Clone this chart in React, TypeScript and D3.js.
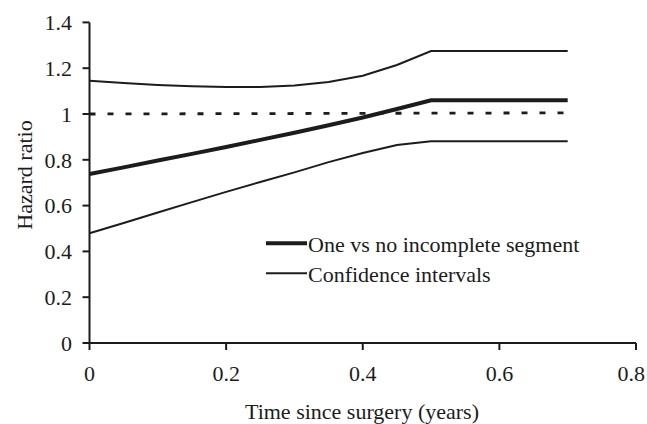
import React from "react";
import * as d3 from "d3";

const times = [0, 0.05, 0.1, 0.15, 0.2, 0.25, 0.3, 0.35, 0.4, 0.45, 0.5, 0.7];
const hazard = [0.738, 0.767, 0.797, 0.826, 0.856, 0.887, 0.918, 0.951, 0.985, 1.022, 1.06, 1.06];
const upperCI = [1.145, 1.135, 1.127, 1.121, 1.118, 1.118, 1.124, 1.14, 1.167, 1.214, 1.275, 1.275];
const lowerCI = [0.479, 0.524, 0.57, 0.615, 0.66, 0.703, 0.745, 0.79, 0.83, 0.865, 0.881, 0.881];
const refTimes = [0, 0.7];
const refValues = [1.0, 1.005];
const xTicks = [0, 0.2, 0.4, 0.6, 0.8];
const yTicks = [0, 0.2, 0.4, 0.6, 0.8, 1, 1.2, 1.4];
const legendLabels = ["One vs no incomplete segment", "Confidence intervals"];

const W = 647;
const H = 424;
const FONT = "'Liberation Serif', 'Times New Roman', serif";
const INK = "#1c1c1c";
const FS = 22;

export default function App() {
  const x = d3.scaleLinear().domain([0, 0.8]).range([89.5, 636]);
  const y = d3.scaleLinear().domain([0, 1.4]).range([343, 22.4]);
  const line = d3
    .line<[number, number]>()
    .x((d) => x(d[0]))
    .y((d) => y(d[1]));
  const pts = (vals: number[], ts: number[] = times) =>
    ts.map((t, i) => [t, vals[i]] as [number, number]);

  const fmt = (v: number) => (v === 0 ? "0" : v === 1 ? "1" : String(v));

  return (
    <svg
      width={W}
      height={H}
      style={{ position: "absolute", left: 0, top: 0, background: "#fff" }}
      fontFamily={FONT}
    >
      <rect width={W} height={H} fill="#fff" />
      {/* reference dashed line */}
      <path
        d={line(pts(refValues, refTimes)) || ""}
        fill="none"
        stroke={INK}
        strokeWidth={2.8}
        strokeDasharray="6 12"
      />
      {/* CIs */}
      <path d={line(pts(upperCI)) || ""} fill="none" stroke={INK} strokeWidth={2} />
      <path d={line(pts(lowerCI)) || ""} fill="none" stroke={INK} strokeWidth={2} />
      {/* hazard */}
      <path d={line(pts(hazard)) || ""} fill="none" stroke={INK} strokeWidth={4} />

      {/* axes */}
      <line x1={x(0)} x2={x(0.8)} y1={y(0)} y2={y(0)} stroke={INK} strokeWidth={2} />
      <line x1={x(0)} x2={x(0)} y1={y(0)} y2={y(1.4)} stroke={INK} strokeWidth={2} />
      {yTicks.map((t) => (
        <g key={"y" + t}>
          <line x1={x(0) - 7} x2={x(0)} y1={y(t)} y2={y(t)} stroke={INK} strokeWidth={2} />
          <text
            x={72}
            y={y(t)}
            dy="0.35em"
            textAnchor="end"
            fontSize={FS}
            fill={INK}
          >
            {fmt(t)}
          </text>
        </g>
      ))}
      {xTicks.map((t, i) => {
        const last = i === xTicks.length - 1;
        return (
          <g key={"x" + t}>
            <line x1={x(t)} x2={x(t)} y1={y(0)} y2={y(0) + 7} stroke={INK} strokeWidth={2} />
            <text
              x={last ? W - 2 : x(t)}
              y={373.5}
              dy="0.35em"
              textAnchor={last ? "end" : "middle"}
              fontSize={FS}
              fill={INK}
            >
              {fmt(t)}
            </text>
          </g>
        );
      })}
      <text
        transform={`translate(24,175) rotate(-90)`}
        textAnchor="middle"
        dy="0.35em"
        fontSize={FS}
        fill={INK}
      >
        Hazard ratio
      </text>
      <text x={362} y={419} textAnchor="middle" fontSize={FS} fill={INK}>
        Time since surgery (years)
      </text>

      {/* legend */}
      <line x1={266} x2={307} y1={243.3} y2={243.3} stroke={INK} strokeWidth={4} />
      <text x={308} y={251.5} fontSize={FS} fill={INK}>
        {legendLabels[0]}
      </text>
      <line x1={266} x2={307} y1={273.3} y2={273.3} stroke={INK} strokeWidth={2} />
      <text x={308} y={281.5} fontSize={FS} fill={INK}>
        {legendLabels[1]}
      </text>
    </svg>
  );
}
